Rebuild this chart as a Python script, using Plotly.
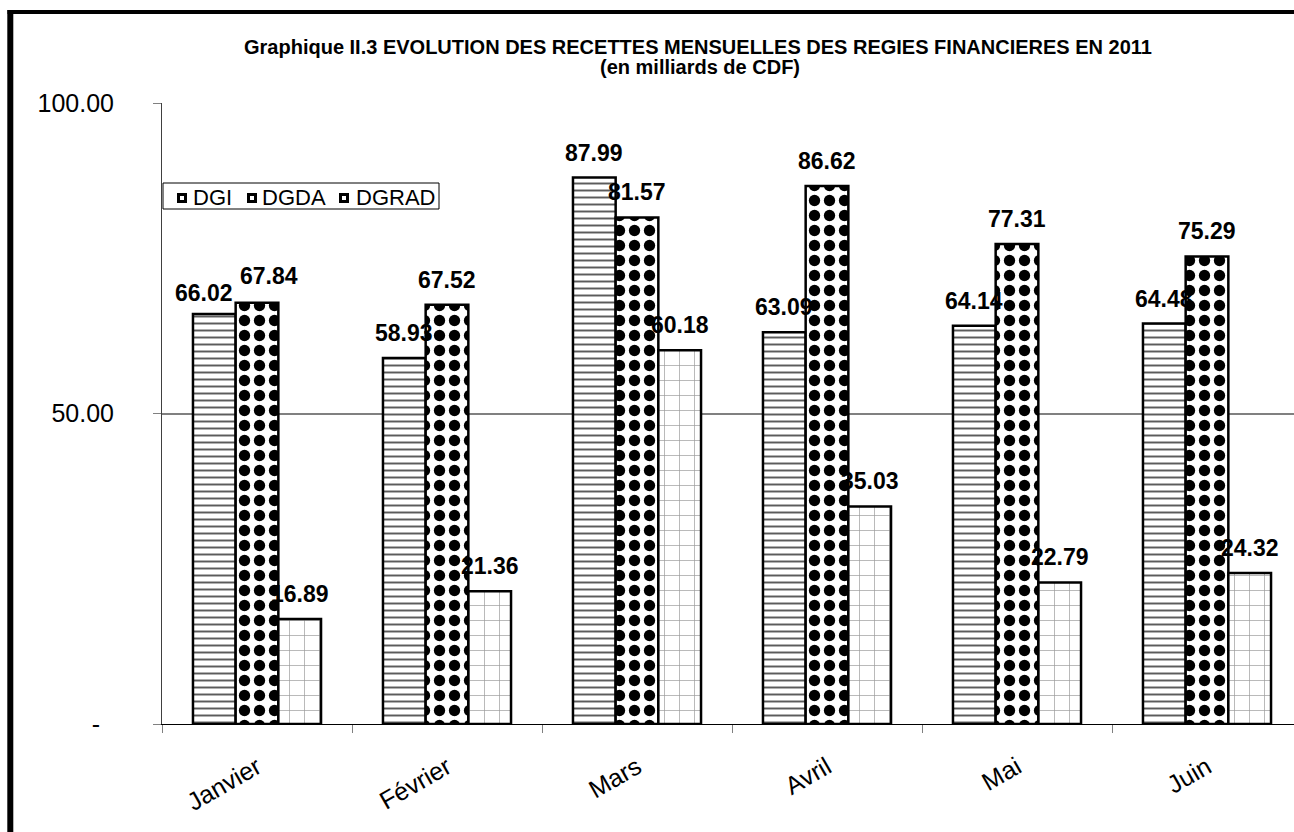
import plotly.graph_objects as go

# ---- data ----
months = ["Janvier", "Février", "Mars", "Avril", "Mai", "Juin"]
dgi = [66.02, 58.93, 87.99, 63.09, 64.14, 64.48]
dgda = [67.84, 67.52, 81.57, 86.62, 77.31, 75.29]
dgrad = [16.89, 21.36, 60.18, 35.03, 22.79, 24.32]
series_names = ["DGI", "DGDA", "DGRAD"]
ytick_vals = [0, 50, 100]
ytick_text = ["-\u00a0\u00a0", "50.00", "100.00"]
title_l1 = "Graphique II.3 EVOLUTION DES RECETTES MENSUELLES DES REGIES FINANCIERES EN 2011"
title_l2 = "(en milliards de CDF)"

# ---- layout geometry ----
W, H = 1294, 832
L, R, T, B = 162, 0, 103, 108
PW, PH = W - L - R, H - T - B
BARGAP = 0.326
X_RANGE = [-0.5, 5.5 - 8 / 190]
CAT_PX = PW / (X_RANGE[1] - X_RANGE[0])
BAR_PX = CAT_PX * (1 - BARGAP) / 3


def px_x(px):
    return (px - L) / PW


def px_y(py):
    return (H - B - py) / PH


FONT = "Liberation Sans, Arial, sans-serif"

patterns = [
    dict(shape="-", fgcolor="#5c5c5c", fgopacity=1, size=7, solidity=0.28, fillmode="overlay"),
    dict(shape=".", fgcolor="black", fgopacity=1, size=15, solidity=0.45, fillmode="overlay"),
    dict(shape="+", fgcolor="#9a9a9a", fgopacity=1, size=15, solidity=0.09, fillmode="overlay"),
]

fig = go.Figure()
for name, vals, pat in zip(series_names, [dgi, dgda, dgrad], patterns):
    fig.add_trace(go.Bar(
        x=months, y=vals, name=name, showlegend=False,
        marker=dict(color="white", line=dict(color="black", width=2.5), pattern=pat),
    ))

# data labels
label_nudge = {("DGI", "Janvier"): (-10, -4), ("DGDA", "Janvier"): (12, 2)}
annotations = []
for i, (name, vals) in enumerate(zip(series_names, [dgi, dgda, dgrad])):
    for m, v in zip(months, vals):
        dx, dy = label_nudge.get((name, m), (0, 0))
        annotations.append(dict(
            x=m, y=v, xref="x", yref="y", text=f"{v:.2f}", showarrow=False,
            xshift=(i - 1) * BAR_PX + dx, yshift=25 + dy, yanchor="middle",
            font=dict(family=FONT, size=23, color="black", weight="bold"),
        ))

# title (two lines)
for txt, cx, cy in [(title_l1, 698, 47), (title_l2, 700, 67)]:
    annotations.append(dict(
        x=px_x(cx), y=px_y(cy), xref="paper", yref="paper",
        text=f"<b>{txt}</b>", showarrow=False, xanchor="center", yanchor="middle",
        font=dict(family=FONT, size=20, color="black"),
    ))

shapes = [
    # outer chart border (left and top edges visible)
    dict(type="line", xref="paper", yref="paper", x0=px_x(10.3), x1=px_x(10.3),
         y0=px_y(10), y1=px_y(H + 20), line=dict(color="black", width=6)),
    dict(type="line", xref="paper", yref="paper", x0=px_x(7.5), x1=px_x(W + 20),
         y0=px_y(12), y1=px_y(12), line=dict(color="black", width=4)),
    # legend box
    dict(type="rect", xref="paper", yref="paper", x0=px_x(163), x1=px_x(439),
         y0=px_y(183), y1=px_y(209), line=dict(color="black", width=1), fillcolor="white"),
]

# custom legend entries: swatch + label
legend_items = [("DGI", 177, 191), ("DGDA", 247, 260), ("DGRAD", 339, 354)]
for name, sx, tx in legend_items:
    shapes.append(dict(type="rect", xref="paper", yref="paper",
                       x0=px_x(sx), x1=px_x(sx + 10), y0=px_y(193), y1=px_y(203),
                       line=dict(color="black", width=0), fillcolor="black"))
    shapes.append(dict(type="rect", xref="paper", yref="paper",
                       x0=px_x(sx + 3), x1=px_x(sx + 7), y0=px_y(196), y1=px_y(200),
                       line=dict(color="white", width=0), fillcolor="white"))
    annotations.append(dict(
        x=px_x(tx), y=px_y(197), xref="paper", yref="paper", text=name,
        showarrow=False, xanchor="left", yanchor="middle",
        font=dict(family=FONT, size=22, color="black"),
    ))

fig.update_layout(
    width=W, height=H,
    margin=dict(l=L, r=R, t=T, b=B, autoexpand=False),
    paper_bgcolor="white", plot_bgcolor="white",
    barmode="group", bargap=BARGAP, bargroupgap=0,
    font=dict(family=FONT, color="black"),
    showlegend=False,
    annotations=annotations,
    shapes=shapes,
)

fig.update_xaxes(
    range=X_RANGE, tickangle=-30, tickson="boundaries",
    ticks="outside", ticklen=8, tickcolor="#808080",
    showline=True, linecolor="black", linewidth=1,
    showgrid=False, tickfont=dict(family=FONT, size=25, color="black"),
    ticklabelstandoff=18,
)
fig.update_yaxes(
    range=[0, 100], tickvals=ytick_vals, ticktext=ytick_text,
    ticks="outside", ticklen=8, tickcolor="#808080",
    showline=True, linecolor="#404040", linewidth=1,
    showgrid=True, gridcolor="#808080", gridwidth=1.5, zeroline=False,
    tickfont=dict(family=FONT, size=25, color="black"),
    ticklabelstandoff=34,
)

fig.write_html(
    "out.html",
    config={"displayModeBar": False},
    post_script="document.body.style.margin='0';document.body.style.overflow='hidden';",
)
